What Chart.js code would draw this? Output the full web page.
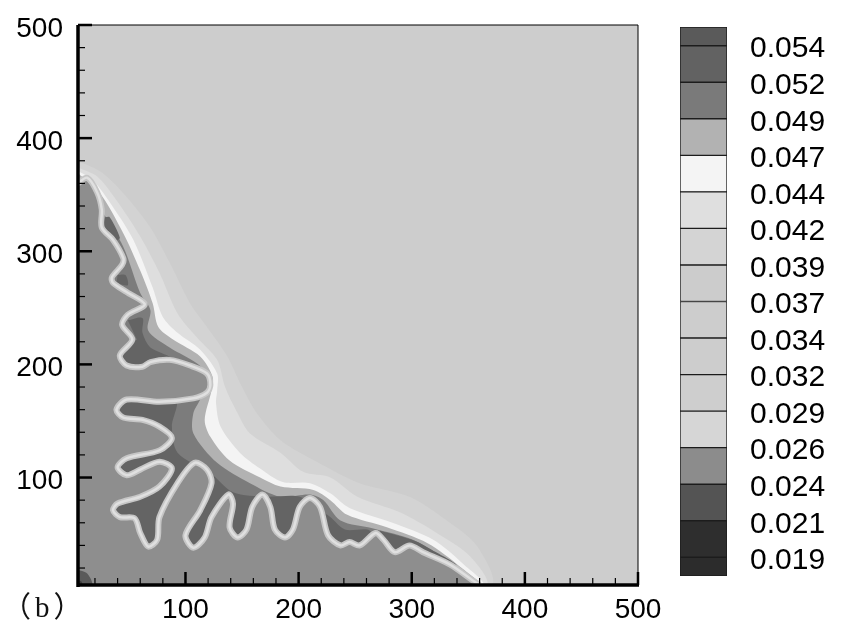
<!DOCTYPE html>
<html lang="en">
<head>
  <meta charset="UTF-8" />
  <title>Contour (b)</title>
  <script src="https://cdn.jsdelivr.net/npm/chart.js"></script>
  <style>
    html, body { margin: 0; padding: 0; background: #fff; }
    #wrap { position: relative; width: 842px; height: 637px; overflow: hidden; }
    #plot { position: absolute; left: 0; top: 0; }
    #bar { position: absolute; left: 670px; top: 0; }
    #tag { position: absolute; left: 2px; top: 583px; font: 29px "Liberation Serif", "Noto Sans CJK SC", serif; letter-spacing: 4px; color: #111; }
  </style>
</head>
<body>
  <div id="wrap">
    <canvas id="plot" width="842" height="637"></canvas>
    <canvas id="bar" width="172" height="637"></canvas>
    <div id="tag">（b）</div>
  </div>

  <script>
    // contour lines, in data units
    const edge1 = [[5,378],[9,378],[27,369],[48,348],[69,321],[86,290],[104,254],[119,233],[137,207],[150,180],[163,157],[184,133],[216,114],[254,95],[298,83],[331,62],[358,39],[369,5]];
    const edge2 = [[5,374],[22,366],[39,345],[60,313],[77,281],[93,245],[110,224],[128,204],[135,180],[146,157],[157,139],[184,122],[204,105],[228,100],[252,83],[290,69],[322,51],[352,30],[365,5]];
    const edge3 = [[5,371],[18,363],[36,339],[54,310],[71,268],[80,242],[93,228],[113,213],[128,192],[128,177],[127,166],[131,145],[148,122],[166,108],[186,96],[210,95],[228,86],[245,73],[283,60],[319,45],[345,24],[362,5]];
    const edge4 = [[5,369],[24,352],[45,316],[60,283],[71,254],[76,233],[89,222],[113,207],[124,189],[123,177],[117,151],[122,136],[139,115],[166,100],[184,92],[213,89],[228,80],[243,67],[278,56],[314,42],[343,21],[359,5]];
    const edge5 = [[5,365],[27,334],[45,304],[60,263],[69,248],[67,230],[86,215],[110,201],[120,189],[113,169],[107,157],[107,139],[128,113],[157,95],[184,83],[210,85],[222,80],[237,62],[266,55],[301,45],[331,27],[354,8]];
    const darkMain = [[24,173],[91,169],[88,145],[93,122],[122,104],[142,87],[172,83],[201,83],[219,71],[228,65],[241,54],[263,53],[265,32],[24,32]];
    const darkA = [[29,330],[33,330],[42,312],[39,310],[27,323]];
    const darkB = [[40,279],[47,279],[49,270],[39,272]];
    const darkC = [[49,239],[62,241],[62,228],[69,215],[86,206],[48,199],[42,208],[57,222]];
    const darkD = [[272,53],[303,44],[318,36],[340,22],[325,18],[272,27]];
    const cornerOuter = [[-5,19],[5,18],[12,16],[16,11],[18,5],[19,-5],[-5,-5]];
    const cornerInner = [[-5,10],[5,9],[8,8],[9,5],[10,-5],[-5,-5]];
    const fingers = [[5,360],[13,365],[22,352],[26,337],[26,321],[36,310],[45,294],[44,288],[35,277],[36,272],[48,264],[64,253],[49,244],[44,235],[53,222],[42,208],[48,199],[62,198],[69,202],[86,204],[104,199],[119,192],[122,182],[119,175],[107,170],[77,167],[48,169],[39,160],[45,153],[62,151],[77,145],[88,135],[77,124],[48,117],[40,109],[48,102],[60,107],[77,114],[88,108],[77,92],[60,83],[40,77],[36,71],[42,65],[55,64],[60,51],[67,39],[75,45],[77,65],[93,95],[108,113],[119,107],[123,95],[113,71],[100,49],[107,38],[117,47],[123,65],[138,85],[142,77],[139,56],[146,47],[154,54],[159,74],[168,85],[175,74],[179,54],[188,47],[195,54],[201,74],[210,82],[219,74],[226,49],[237,40],[245,43],[254,40],[268,51],[275,45],[285,34],[298,40],[310,34],[334,23],[354,9],[360,5]];
    const closeCorner = [[360,-5],[-5,-5],[-5,360]];

    const majorTicks = [100, 200, 300, 400, 500];
    const minorTicks = [20, 40, 60, 80, 120, 140, 160, 180, 220, 240, 260, 280, 320, 340, 360, 380, 420, 440, 460, 480];

    // colour bar
    const levels = [0.019, 0.0215, 0.024, 0.0265, 0.029, 0.0315, 0.034, 0.0365, 0.039, 0.0415, 0.044, 0.0465, 0.049, 0.0515, 0.054];
    const levelLabels = ['0.019', '0.021', '0.024', '0.026', '0.029', '0.032', '0.034', '0.037', '0.039', '0.042', '0.044', '0.047', '0.049', '0.052', '0.054'];
    const barMin = 0.01772;
    const barMax = 0.05528;
    const bandColors = ['#2c2c2c', '#2e2e2e', '#545454', '#8c8c8c', '#d6d6d6', '#cecece', '#cdcdcd', '#cdcdcd', '#cccccc', '#d4d4d4', '#dfdfdf', '#f4f4f4', '#b2b2b2', '#7a7a7a', '#626262', '#5a5a5a'];

    // the labels sit a little below their ticks, so they get their own axis with a shifted range
    const plotLabelShift = 3.5;
    const barLabelShift = 0.00024;

    const FONT = '"Liberation Sans", Arial, sans-serif';

    function pts(list) {
      return list.map(p => ({ x: p[0], y: p[1] }));
    }

    function area(list, color) {
      return {
        data: pts(list), showLine: true, fill: 'shape', backgroundColor: color,
        borderWidth: 0, borderColor: color, pointRadius: 0, tension: 0.3
      };
    }

    function stroke(list, color, width) {
      return {
        data: pts(list), showLine: true, fill: false, borderColor: color,
        borderWidth: width, pointRadius: 0, tension: 0.3
      };
    }

    // the label overhang would otherwise push the plot area in
    function noOverhang(s) {
      s.paddingTop = 0;
      s.paddingBottom = 0;
      s.paddingLeft = 0;
      s.paddingRight = 0;
    }

    // bottom layer first
    const layers = [
      area(edge1.concat([[-5,-5]]), '#d3d3d3'),
      area(edge2.concat([[-5,-5]]), '#dedede'),
      area(edge3.concat([[-5,-5]]), '#f4f4f4'),
      area(edge4.concat([[-5,-5]]), '#b2b2b2'),
      area(edge5.concat([[-5,-5]]), '#7c7c7c'),
      area(darkMain, '#646464'),
      area(darkA, '#646464'),
      area(darkB, '#646464'),
      area(darkC, '#646464'),
      area(darkD, '#646464'),
      area(fingers.concat(closeCorner), '#8e8e8e'),
      area(cornerOuter, '#5a5a5a'),
      area(cornerInner, '#3c3c3c'),
      stroke(fingers, '#c6c6c6', 6),
      stroke(fingers, '#e0e0e0', 2.5)
    ];
    layers.forEach((d, i) => { d.order = layers.length - i; });

    // inward ticks and frame, the axes themselves only carry the labels
    const frame = {
      id: 'frame',
      beforeDatasetsDraw(chart) {
        const a = chart.chartArea;
        chart.ctx.fillStyle = '#cdcdcd';
        chart.ctx.fillRect(a.left, a.top, a.right - a.left, a.bottom - a.top);
      },
      afterDatasetsDraw(chart) {
        const { ctx, chartArea: a, scales } = chart;
        ctx.save();
        ctx.strokeStyle = '#000';
        function seg(x1, y1, x2, y2, w) {
          ctx.lineWidth = w;
          ctx.beginPath();
          ctx.moveTo(x1, y1);
          ctx.lineTo(x2, y2);
          ctx.stroke();
        }
        seg(a.left, a.top, a.right, a.top, 1);
        seg(a.right, a.top, a.right, a.bottom, 1);
        seg(a.left, a.top, a.left, a.bottom + 2, 3.5);
        seg(a.left, a.bottom, a.right + 1, a.bottom, 3.5);
        majorTicks.forEach(v => {
          const px = scales.x.getPixelForValue(v);
          const py = scales.y.getPixelForValue(v);
          seg(px, a.bottom, px, a.bottom - 13, 2.5);
          seg(a.left, py, a.left + 14, py, 2.5);
        });
        minorTicks.forEach(v => {
          const px = scales.x.getPixelForValue(v);
          const py = scales.y.getPixelForValue(v);
          seg(px, a.bottom, px, a.bottom - 7, 1.2);
          seg(a.left, py, a.left + 7, py, 1.2);
        });
        ctx.restore();
      }
    };

    new Chart(document.getElementById('plot'), {
      type: 'scatter',
      data: { datasets: layers },
      plugins: [frame],
      options: {
        responsive: false,
        animation: false,
        layout: { padding: { top: 25, right: 204 } },
        plugins: { legend: { display: false }, tooltip: { enabled: false } },
        scales: {
          x: {
            type: 'linear', min: 5, max: 500,
            grid: { display: false, drawTicks: false }, border: { display: false },
            afterBuildTicks: s => { s.ticks = majorTicks.map(v => ({ value: v })); },
            afterFit: s => { s.height = 52; noOverhang(s); },
            ticks: { color: '#000', padding: 8, maxRotation: 0, autoSkip: false, font: { family: FONT, size: 28 } }
          },
          y: { type: 'linear', min: 5, max: 500, display: false },
          yLabels: {
            type: 'linear', position: 'left',
            min: 5 + plotLabelShift, max: 500 + plotLabelShift,
            grid: { display: false, drawTicks: false }, border: { display: false },
            afterBuildTicks: s => { s.ticks = majorTicks.map(v => ({ value: v })); },
            afterFit: s => { s.width = 78; noOverhang(s); },
            ticks: { color: '#000', padding: 15, autoSkip: false, font: { family: FONT, size: 28 } }
          }
        }
      }
    });

    const edges = [barMin].concat(levels, [barMax]);
    new Chart(document.getElementById('bar'), {
      type: 'bar',
      data: {
        labels: ['levels'],
        datasets: bandColors.map((c, i) => ({
          data: [[edges[i], edges[i + 1]]],
          backgroundColor: c,
          borderColor: '#1c1c1c',
          borderWidth: 1,
          borderSkipped: false,
          barPercentage: 1,
          categoryPercentage: 1,
          grouped: false
        }))
      },
      options: {
        responsive: false,
        animation: false,
        layout: { padding: { top: 27, bottom: 61, left: 10 } },
        plugins: { legend: { display: false }, tooltip: { enabled: false } },
        scales: {
          x: { display: false },
          y: { min: barMin, max: barMax, display: false },
          yLabels: {
            type: 'linear', position: 'right',
            min: barMin + barLabelShift, max: barMax + barLabelShift,
            grid: { display: false, drawTicks: false }, border: { display: false },
            afterBuildTicks: s => { s.ticks = levels.map(v => ({ value: v })); },
            afterFit: s => { s.width = 115; noOverhang(s); },
            ticks: {
              color: '#000', padding: 23, autoSkip: false,
              font: { family: FONT, size: 30 },
              callback: (v) => levelLabels[levels.indexOf(v)]
            }
          }
        }
      }
    });
  </script>
</body>
</html>
